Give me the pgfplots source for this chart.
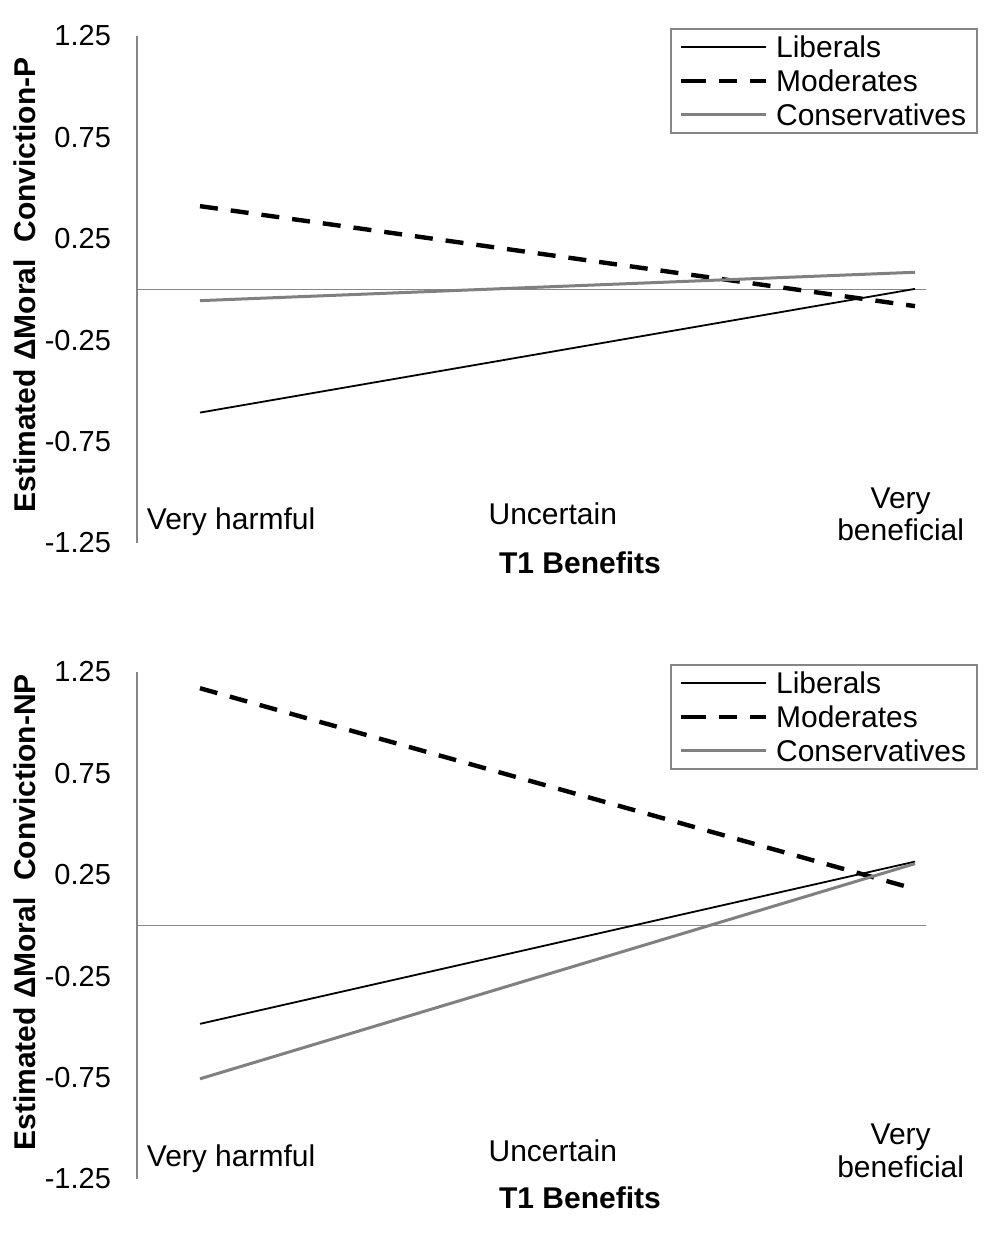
\documentclass[border=0pt]{standalone}
\usepackage{fontspec}
\setmainfont{Liberation Sans}
\usepackage{pgfplots}
\pgfplotsset{compat=1.18}
\definecolor{consgray}{RGB}{128,128,128}
\definecolor{axgray}{RGB}{134,134,134}
\pgfplotsset{
 panel/.style={
  scale only axis, width=394.5pt, height=253.5pt,
  xmin=0.8238, xmax=3.0308, ymin=-1.25, ymax=1.25,
  axis lines*=left, axis line style={-},
  x axis line style={draw=none},
  y axis line style={draw=axgray, line width=0.8pt},
  tick style={draw=none},
  xtick={1.087,1.987,2.96},
  xticklabels={{\raisebox{-2.5pt}{Very harmful}}, Uncertain, {\raisebox{-8pt}{\begin{tabular}[b]{@{}c@{}}Very\\beneficial\end{tabular}}}},
  xticklabel style={anchor=base, yshift=9pt, inner sep=0pt, font=\fontsize{15}{16}\selectfont},
  ytick={-1.25,-0.75,-0.25,0.25,0.75,1.25},
  yticklabel style={anchor=east, xshift=-9.5pt, font=\fontsize{14.5}{16}\selectfont,
    /pgf/number format/.cd, fixed, fixed zerofill, precision=2, assume math mode=true},
  xlabel style={at={(axis description cs:0.5615,0)}, anchor=center, yshift=-10pt, font=\fontsize{15}{16}\selectfont\bfseries},
  ylabel style={anchor=center, font=\fontsize{15}{16}\selectfont\bfseries},
  legend style={at={(axis description cs:1.0659,1.0158)}, anchor=north east,
    draw=axgray, line width=0.8pt, fill=white, font=\fontsize{15}{17}\selectfont,
    inner xsep=4pt, inner ysep=0.5pt, row sep=0pt,
    nodes={inner sep=1.5pt, text height=12.5pt, text depth=1.5pt},
    /tikz/every odd column/.append style={column sep=2.5pt}},
  legend cell align=left,
  legend image code/.code={\path (0pt,0pt) -- (3.5pt,0pt); \draw[##1] (3.5pt,0pt) -- (42.5pt,0pt);},
 },
 lib/.style={black, line width=0.9pt},
 mod/.style={black, line width=2.2pt, dash pattern=on 9pt off 6.5pt},
 cons/.style={consgray, line width=1.5pt},
 zero/.style={axgray, line width=0.7pt, forget plot},
}
\begin{document}
\begin{tikzpicture}
\path[use as bounding box] (0,0) rectangle (502pt,616.5pt);
% Top panel
\begin{axis}[panel, at={(68.5pt,345pt)}, anchor=south west,
  xlabel={T1 Benefits},
  ylabel={Estimated ΔMoral~~Conviction-P},
  ylabel style={at={(axis description cs:-0.142,0.509)}}]
\addplot[zero] coordinates {(0.8238,0) (3.0308,0)};
\addplot[lib] coordinates {(1,-0.607) (3,0.003)};
\addplot[mod] coordinates {(1,0.411) (3,-0.082)};
\addplot[cons] coordinates {(1,-0.055) (3,0.085)};
\legend{Liberals, Moderates, Conservatives}
\end{axis}
% Bottom panel
\begin{axis}[panel, at={(68.5pt,27pt)}, anchor=south west,
  xlabel={T1 Benefits},
  xlabel style={yshift=0.5pt},
  ylabel={Estimated ΔMoral~~Conviction-NP},
  ylabel style={at={(axis description cs:-0.142,0.526)}}]
\addplot[zero] coordinates {(0.8238,0) (3.0308,0)};
\addplot[lib] coordinates {(1,-0.485) (3,0.315)};
\addplot[mod] coordinates {(1,1.17) (3,0.18)};
\addplot[cons] coordinates {(1,-0.756) (3,0.305)};
\legend{Liberals, Moderates, Conservatives}
\end{axis}
\end{tikzpicture}
\end{document}
